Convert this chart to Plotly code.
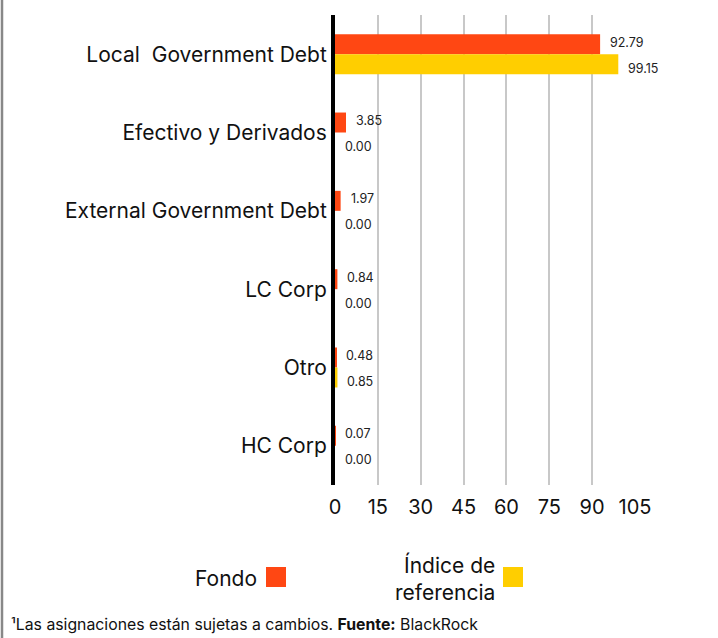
import plotly.graph_objects as go

categories = ["Local \u00a0Government Debt", "Efectivo y Derivados", "External Government Debt",
              "LC Corp", "Otro", "HC Corp"]
fondo = [92.79, 3.85, 1.97, 0.84, 0.48, 0.07]
indice = [99.15, 0.00, 0.00, 0.00, 0.85, 0.00]
tick_vals = [0, 15, 30, 45, 60, 75, 90, 105]

ORANGE = "#FF4713"
YELLOW = "#FFCE00"
FONT = "Inter"

W, H = 718, 638
L, R, T, B = 335, 83, 15, 153
PW, PH = W - L - R, H - T - B


def px(x):
    return (x - L) / PW


def py(y):
    return (H - B - y) / PH


fig = go.Figure()
fig.add_trace(go.Bar(y=categories, x=fondo, orientation="h", name="Fondo",
                     marker=dict(color=ORANGE, line=dict(width=0))))
fig.add_trace(go.Bar(y=categories, x=indice, orientation="h", name="Índice de referencia",
                     marker=dict(color=YELLOW, line=dict(width=0))))

ann = []
for c, v in zip(categories, fondo):
    ann.append(dict(x=v, y=c, xref="x", yref="y", text=f"{v:.2f}", showarrow=False,
                    xanchor="left", yanchor="middle", xshift=8, yshift=12,
                    font=dict(family=FONT, size=12.5, color="#222")))
for c, v in zip(categories, indice):
    ann.append(dict(x=v, y=c, xref="x", yref="y", text=f"{v:.2f}", showarrow=False,
                    xanchor="left", yanchor="middle", xshift=8, yshift=-14,
                    font=dict(family=FONT, size=12.5, color="#222")))

# legend (custom, text left of the swatch)
ann.append(dict(x=px(259), y=py(578), xref="paper", yref="paper", text="Fondo",
                showarrow=False, xanchor="right", yanchor="middle",
                font=dict(family=FONT, size=21, color="#111")))
ann.append(dict(x=px(497), y=py(578), xref="paper", yref="paper",
                text="Índice de<br>referencia", align="right",
                showarrow=False, xanchor="right", yanchor="middle",
                font=dict(family=FONT, size=21, color="#111")))
ann.append(dict(x=px(9), y=py(624), xref="paper", yref="paper",
                text="¹Las asignaciones están sujetas a cambios. <b>Fuente:</b> BlackRock",
                showarrow=False, xanchor="left", yanchor="middle",
                font=dict(family=FONT, size=15.8, color="#111")))

shapes = [
    dict(type="rect", xref="paper", yref="paper", x0=px(266), x1=px(286), y0=py(587), y1=py(567),
         fillcolor=ORANGE, line=dict(width=0)),
    dict(type="rect", xref="paper", yref="paper", x0=px(503), x1=px(523), y0=py(587), y1=py(567),
         fillcolor=YELLOW, line=dict(width=0)),
    dict(type="line", xref="paper", yref="paper", x0=px(2), x1=px(2), y0=py(0), y1=py(638),
         line=dict(color="#888", width=2.5)),
]

fig.update_layout(
    width=W, height=H,
    margin=dict(l=L, r=R, t=T, b=B, pad=0),
    paper_bgcolor="white", plot_bgcolor="white",
    barmode="group", bargap=0.49, bargroupgap=0,
    showlegend=False,
    annotations=ann, shapes=shapes,
    font=dict(family=FONT, color="#111"),
    xaxis=dict(range=[0, 105], tickvals=tick_vals, ticktext=[str(t) for t in tick_vals],
               showgrid=True, gridcolor="#c8c8c8", gridwidth=2, zeroline=False,
               showline=False, ticks="outside", ticklen=4, tickcolor="rgba(0,0,0,0)",
               tickfont=dict(family=FONT, size=20, color="#111")),
    yaxis=dict(autorange="reversed", showgrid=False, zeroline=False,
               showline=True, linecolor="black", linewidth=4,
               ticks="",
               tickfont=dict(family=FONT, size=21, color="#111")),
)

fig.write_html("out.html", config={"displayModeBar": False},
               post_script="document.body.style.margin='0px';")
